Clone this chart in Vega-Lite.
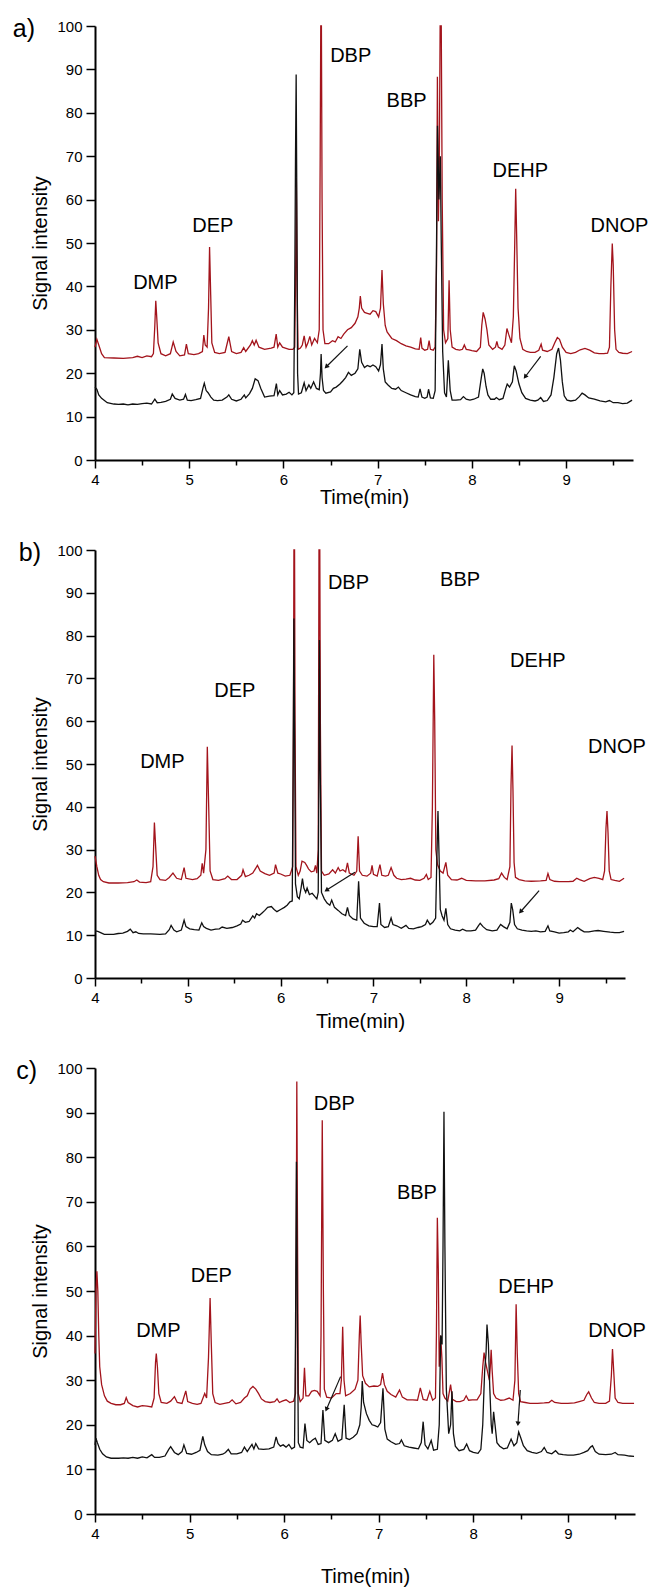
{
"$schema": "https://vega.github.io/schema/vega-lite/v6.json",
"background": "white",
"padding": {"left": 12, "top": 17, "right": 5, "bottom": 2},
"datasets": {
"aR": [{"t":4.0,"v":26},{"t":4.02,"v":27.8},{"t":4.04,"v":26.5},{"t":4.07,"v":24.5},{"t":4.1,"v":23.6},{"t":4.2,"v":23.5},{"t":4.3,"v":23.4},{"t":4.4,"v":23.6},{"t":4.45,"v":23.9},{"t":4.5,"v":23.6},{"t":4.55,"v":24.0},{"t":4.6,"v":23.8},{"t":4.62,"v":24.5},{"t":4.635,"v":31},{"t":4.645,"v":36.7},{"t":4.655,"v":33},{"t":4.67,"v":27},{"t":4.7,"v":24.5},{"t":4.75,"v":24},{"t":4.8,"v":24.5},{"t":4.83,"v":27.2},{"t":4.86,"v":25},{"t":4.9,"v":24},{"t":4.95,"v":24.2},{"t":4.97,"v":26.7},{"t":4.99,"v":24.5},{"t":5.05,"v":24.3},{"t":5.1,"v":24.5},{"t":5.14,"v":25},{"t":5.155,"v":28.8},{"t":5.17,"v":26.5},{"t":5.19,"v":26},{"t":5.205,"v":35},{"t":5.216,"v":49.1},{"t":5.228,"v":38},{"t":5.24,"v":27},{"t":5.27,"v":24.8},{"t":5.32,"v":24.5},{"t":5.38,"v":24.8},{"t":5.42,"v":28.4},{"t":5.45,"v":25},{"t":5.5,"v":24.5},{"t":5.55,"v":24.8},{"t":5.578,"v":25.9},{"t":5.6,"v":25},{"t":5.65,"v":26.5},{"t":5.67,"v":27.5},{"t":5.69,"v":26.5},{"t":5.71,"v":27.6},{"t":5.74,"v":26},{"t":5.8,"v":25.5},{"t":5.87,"v":25.8},{"t":5.9,"v":26},{"t":5.923,"v":29},{"t":5.94,"v":26},{"t":5.96,"v":27},{"t":5.99,"v":26},{"t":6.02,"v":25.8},{"t":6.06,"v":25.5},{"t":6.1,"v":25.5},{"t":6.12,"v":26},{"t":6.13,"v":45},{"t":6.137,"v":65},{"t":6.145,"v":40},{"t":6.155,"v":25.5},{"t":6.18,"v":25.8},{"t":6.2,"v":26.5},{"t":6.22,"v":28.6},{"t":6.24,"v":26},{"t":6.26,"v":27},{"t":6.28,"v":28.5},{"t":6.3,"v":26.5},{"t":6.33,"v":28},{"t":6.36,"v":27},{"t":6.38,"v":30},{"t":6.39,"v":70},{"t":6.396,"v":100},{"t":6.403,"v":100},{"t":6.41,"v":60},{"t":6.42,"v":30},{"t":6.44,"v":26.8},{"t":6.48,"v":26.8},{"t":6.52,"v":27.5},{"t":6.55,"v":27.2},{"t":6.58,"v":28.4},{"t":6.61,"v":28},{"t":6.64,"v":29},{"t":6.68,"v":30},{"t":6.72,"v":30.5},{"t":6.76,"v":31.5},{"t":6.79,"v":33},{"t":6.805,"v":35},{"t":6.816,"v":37.8},{"t":6.83,"v":35},{"t":6.86,"v":34},{"t":6.89,"v":33.8},{"t":6.92,"v":33.6},{"t":6.95,"v":34.4},{"t":6.98,"v":34.2},{"t":7.01,"v":33},{"t":7.03,"v":35},{"t":7.046,"v":43.8},{"t":7.06,"v":36},{"t":7.08,"v":31},{"t":7.1,"v":29.5},{"t":7.15,"v":28},{"t":7.2,"v":27.5},{"t":7.25,"v":26.8},{"t":7.3,"v":26.3},{"t":7.35,"v":26},{"t":7.4,"v":25.6},{"t":7.44,"v":25.5},{"t":7.457,"v":28.2},{"t":7.47,"v":25.8},{"t":7.5,"v":25.3},{"t":7.53,"v":25.5},{"t":7.546,"v":27.5},{"t":7.56,"v":25.5},{"t":7.59,"v":25.3},{"t":7.61,"v":26},{"t":7.625,"v":45},{"t":7.634,"v":88.3},{"t":7.645,"v":55},{"t":7.655,"v":70},{"t":7.663,"v":100},{"t":7.675,"v":100},{"t":7.685,"v":60},{"t":7.7,"v":30},{"t":7.72,"v":27},{"t":7.745,"v":28},{"t":7.758,"v":41.4},{"t":7.77,"v":30},{"t":7.79,"v":26},{"t":7.83,"v":25.5},{"t":7.87,"v":25.3},{"t":7.9,"v":25.5},{"t":7.92,"v":26.5},{"t":7.94,"v":25.5},{"t":7.97,"v":25.4},{"t":8.0,"v":25.2},{"t":8.05,"v":25},{"t":8.09,"v":26},{"t":8.105,"v":31},{"t":8.12,"v":34},{"t":8.14,"v":32.5},{"t":8.16,"v":30},{"t":8.18,"v":26.5},{"t":8.22,"v":25.5},{"t":8.25,"v":26},{"t":8.265,"v":27.3},{"t":8.28,"v":26},{"t":8.32,"v":25.5},{"t":8.35,"v":26.5},{"t":8.372,"v":30.3},{"t":8.39,"v":29},{"t":8.42,"v":27},{"t":8.44,"v":33},{"t":8.455,"v":50},{"t":8.465,"v":62.5},{"t":8.475,"v":52},{"t":8.49,"v":35},{"t":8.51,"v":28},{"t":8.54,"v":25.5},{"t":8.58,"v":25},{"t":8.62,"v":24.8},{"t":8.67,"v":24.8},{"t":8.71,"v":25.3},{"t":8.735,"v":26.7},{"t":8.75,"v":25.3},{"t":8.8,"v":25},{"t":8.85,"v":25.5},{"t":8.88,"v":27},{"t":8.907,"v":28.2},{"t":8.93,"v":27.8},{"t":8.96,"v":26},{"t":9.0,"v":24.8},{"t":9.05,"v":24.5},{"t":9.1,"v":24.8},{"t":9.15,"v":25.4},{"t":9.2,"v":25.7},{"t":9.25,"v":25.3},{"t":9.3,"v":24.7},{"t":9.35,"v":24.5},{"t":9.4,"v":24.5},{"t":9.44,"v":24.6},{"t":9.46,"v":26},{"t":9.475,"v":40},{"t":9.49,"v":49.9},{"t":9.5,"v":45},{"t":9.515,"v":30},{"t":9.53,"v":25.5},{"t":9.56,"v":24.8},{"t":9.6,"v":24.6},{"t":9.65,"v":24.5},{"t":9.7,"v":25}],
"aK": [{"t":4.0,"v":16.8},{"t":4.02,"v":16.3},{"t":4.04,"v":15},{"t":4.07,"v":14.2},{"t":4.1,"v":13.7},{"t":4.13,"v":13.2},{"t":4.2,"v":12.9},{"t":4.25,"v":12.8},{"t":4.3,"v":12.9},{"t":4.35,"v":12.7},{"t":4.4,"v":12.9},{"t":4.45,"v":12.8},{"t":4.5,"v":13},{"t":4.55,"v":13.1},{"t":4.6,"v":12.9},{"t":4.635,"v":14},{"t":4.66,"v":13.2},{"t":4.7,"v":13.3},{"t":4.75,"v":13.5},{"t":4.8,"v":14},{"t":4.82,"v":15.2},{"t":4.85,"v":14.2},{"t":4.9,"v":13.8},{"t":4.94,"v":14},{"t":4.96,"v":15.1},{"t":4.98,"v":13.8},{"t":5.02,"v":13.7},{"t":5.07,"v":13.9},{"t":5.12,"v":14.2},{"t":5.145,"v":16.5},{"t":5.16,"v":17.7},{"t":5.18,"v":16},{"t":5.2,"v":15.5},{"t":5.23,"v":14.5},{"t":5.26,"v":13.8},{"t":5.3,"v":13.7},{"t":5.35,"v":13.8},{"t":5.4,"v":14.5},{"t":5.42,"v":15},{"t":5.45,"v":14},{"t":5.5,"v":13.6},{"t":5.55,"v":14},{"t":5.585,"v":15},{"t":5.6,"v":14.3},{"t":5.64,"v":15.3},{"t":5.67,"v":16.5},{"t":5.7,"v":18.7},{"t":5.73,"v":18.3},{"t":5.76,"v":16.5},{"t":5.8,"v":14.5},{"t":5.85,"v":14.7},{"t":5.9,"v":14.8},{"t":5.925,"v":17.6},{"t":5.94,"v":15},{"t":5.96,"v":16},{"t":5.99,"v":15},{"t":6.03,"v":15.2},{"t":6.06,"v":15.6},{"t":6.09,"v":15},{"t":6.11,"v":15.5},{"t":6.12,"v":40},{"t":6.128,"v":70},{"t":6.135,"v":88.8},{"t":6.142,"v":60},{"t":6.15,"v":20},{"t":6.16,"v":15.2},{"t":6.19,"v":15.5},{"t":6.22,"v":17.8},{"t":6.24,"v":16},{"t":6.27,"v":17.3},{"t":6.29,"v":16.5},{"t":6.32,"v":18},{"t":6.35,"v":16.5},{"t":6.38,"v":16.2},{"t":6.393,"v":20},{"t":6.4,"v":24.4},{"t":6.41,"v":19},{"t":6.425,"v":16},{"t":6.45,"v":15.4},{"t":6.5,"v":15.7},{"t":6.53,"v":16.5},{"t":6.56,"v":16.8},{"t":6.6,"v":17.5},{"t":6.63,"v":18.2},{"t":6.66,"v":19},{"t":6.69,"v":20.2},{"t":6.72,"v":19.5},{"t":6.76,"v":20},{"t":6.79,"v":21},{"t":6.81,"v":25.5},{"t":6.83,"v":22.5},{"t":6.86,"v":21.3},{"t":6.89,"v":21.8},{"t":6.92,"v":21.5},{"t":6.95,"v":21.9},{"t":6.98,"v":21.5},{"t":7.01,"v":20.5},{"t":7.03,"v":22},{"t":7.046,"v":26.7},{"t":7.06,"v":21},{"t":7.08,"v":18},{"t":7.11,"v":17.3},{"t":7.15,"v":16.5},{"t":7.19,"v":16.3},{"t":7.22,"v":16.8},{"t":7.25,"v":16},{"t":7.3,"v":15.5},{"t":7.35,"v":15},{"t":7.4,"v":14.6},{"t":7.43,"v":14.5},{"t":7.45,"v":16.4},{"t":7.47,"v":14.5},{"t":7.5,"v":14.2},{"t":7.525,"v":14.5},{"t":7.54,"v":16.3},{"t":7.56,"v":14.3},{"t":7.59,"v":14.2},{"t":7.61,"v":16},{"t":7.625,"v":50},{"t":7.635,"v":77},{"t":7.65,"v":60},{"t":7.665,"v":70},{"t":7.675,"v":50},{"t":7.69,"v":25},{"t":7.71,"v":15.5},{"t":7.73,"v":14.5},{"t":7.75,"v":23},{"t":7.77,"v":16},{"t":7.79,"v":13.8},{"t":7.83,"v":13.8},{"t":7.88,"v":13.9},{"t":7.91,"v":14.6},{"t":7.94,"v":14},{"t":7.98,"v":13.8},{"t":8.02,"v":14},{"t":8.07,"v":14.5},{"t":8.1,"v":19},{"t":8.115,"v":21},{"t":8.13,"v":20},{"t":8.15,"v":17},{"t":8.17,"v":15},{"t":8.2,"v":14},{"t":8.24,"v":14},{"t":8.26,"v":14.4},{"t":8.29,"v":13.9},{"t":8.33,"v":14.2},{"t":8.36,"v":16.5},{"t":8.375,"v":17.5},{"t":8.4,"v":16.8},{"t":8.43,"v":18},{"t":8.45,"v":21.7},{"t":8.47,"v":20.5},{"t":8.5,"v":17.5},{"t":8.53,"v":15.5},{"t":8.57,"v":14.2},{"t":8.62,"v":13.8},{"t":8.67,"v":13.6},{"t":8.7,"v":13.8},{"t":8.73,"v":14.4},{"t":8.76,"v":13.5},{"t":8.8,"v":13.7},{"t":8.84,"v":15},{"t":8.87,"v":19},{"t":8.9,"v":24.5},{"t":8.92,"v":25.8},{"t":8.94,"v":23},{"t":8.96,"v":18},{"t":8.98,"v":14.8},{"t":9.01,"v":13.8},{"t":9.05,"v":13.6},{"t":9.1,"v":13.8},{"t":9.14,"v":14.6},{"t":9.17,"v":15.4},{"t":9.2,"v":15},{"t":9.24,"v":14.3},{"t":9.3,"v":14},{"t":9.36,"v":13.6},{"t":9.42,"v":13.4},{"t":9.46,"v":13.7},{"t":9.5,"v":13.2},{"t":9.55,"v":13.2},{"t":9.6,"v":13},{"t":9.65,"v":13.1},{"t":9.7,"v":13.8}],
"bR": [{"t":4.0,"v":28.5},{"t":4.02,"v":26},{"t":4.04,"v":24},{"t":4.06,"v":23},{"t":4.09,"v":22.5},{"t":4.15,"v":22.2},{"t":4.25,"v":22.2},{"t":4.35,"v":22.3},{"t":4.42,"v":22.5},{"t":4.45,"v":22.9},{"t":4.48,"v":22.4},{"t":4.55,"v":22.3},{"t":4.6,"v":22.5},{"t":4.625,"v":26},{"t":4.64,"v":36.3},{"t":4.655,"v":30},{"t":4.67,"v":24},{"t":4.7,"v":23},{"t":4.76,"v":22.8},{"t":4.8,"v":23.5},{"t":4.84,"v":24.5},{"t":4.88,"v":23.3},{"t":4.93,"v":23},{"t":4.96,"v":25.8},{"t":4.98,"v":23.3},{"t":5.05,"v":23},{"t":5.1,"v":23.2},{"t":5.14,"v":24},{"t":5.155,"v":26.8},{"t":5.17,"v":24.5},{"t":5.195,"v":30},{"t":5.21,"v":54},{"t":5.225,"v":40},{"t":5.24,"v":25},{"t":5.27,"v":23},{"t":5.33,"v":22.8},{"t":5.4,"v":23.2},{"t":5.43,"v":23.8},{"t":5.47,"v":23},{"t":5.53,"v":23},{"t":5.58,"v":24},{"t":5.595,"v":25.3},{"t":5.62,"v":23.7},{"t":5.66,"v":24},{"t":5.7,"v":24.5},{"t":5.75,"v":26.3},{"t":5.78,"v":25},{"t":5.83,"v":24.4},{"t":5.88,"v":24},{"t":5.93,"v":24.5},{"t":5.945,"v":26.5},{"t":5.97,"v":24.5},{"t":6.0,"v":24.3},{"t":6.05,"v":23.8},{"t":6.1,"v":24},{"t":6.13,"v":26},{"t":6.138,"v":60},{"t":6.143,"v":100},{"t":6.15,"v":100},{"t":6.155,"v":60},{"t":6.165,"v":26},{"t":6.19,"v":24},{"t":6.21,"v":25},{"t":6.23,"v":27.3},{"t":6.26,"v":27},{"t":6.28,"v":26.3},{"t":6.3,"v":25.5},{"t":6.33,"v":24.8},{"t":6.36,"v":25},{"t":6.375,"v":26.3},{"t":6.39,"v":24.5},{"t":6.405,"v":30},{"t":6.413,"v":100},{"t":6.422,"v":100},{"t":6.428,"v":60},{"t":6.44,"v":25},{"t":6.47,"v":24},{"t":6.52,"v":24.3},{"t":6.56,"v":25.3},{"t":6.59,"v":24.5},{"t":6.62,"v":25.8},{"t":6.64,"v":25},{"t":6.67,"v":25.3},{"t":6.7,"v":24.8},{"t":6.72,"v":26.9},{"t":6.74,"v":24.5},{"t":6.79,"v":24},{"t":6.82,"v":25},{"t":6.835,"v":33.1},{"t":6.85,"v":25},{"t":6.88,"v":24},{"t":6.93,"v":23.8},{"t":6.97,"v":24.5},{"t":6.985,"v":26.3},{"t":7.0,"v":24.2},{"t":7.04,"v":23.8},{"t":7.07,"v":26.5},{"t":7.09,"v":24},{"t":7.13,"v":23.8},{"t":7.16,"v":24},{"t":7.19,"v":25.8},{"t":7.22,"v":24},{"t":7.25,"v":23.3},{"t":7.3,"v":23},{"t":7.35,"v":23.1},{"t":7.4,"v":23.3},{"t":7.45,"v":22.9},{"t":7.5,"v":22.8},{"t":7.545,"v":23.3},{"t":7.57,"v":24.2},{"t":7.59,"v":23},{"t":7.62,"v":23.5},{"t":7.635,"v":40},{"t":7.65,"v":75.5},{"t":7.66,"v":60},{"t":7.672,"v":30},{"t":7.69,"v":26.5},{"t":7.72,"v":25},{"t":7.75,"v":24.5},{"t":7.78,"v":27},{"t":7.8,"v":24},{"t":7.84,"v":23},{"t":7.9,"v":22.9},{"t":7.95,"v":23.3},{"t":8.0,"v":22.8},{"t":8.1,"v":22.7},{"t":8.2,"v":22.7},{"t":8.3,"v":22.9},{"t":8.35,"v":23.2},{"t":8.38,"v":24.5},{"t":8.41,"v":23.5},{"t":8.44,"v":23},{"t":8.47,"v":26},{"t":8.482,"v":45},{"t":8.493,"v":54.3},{"t":8.503,"v":44},{"t":8.515,"v":27},{"t":8.53,"v":23.5},{"t":8.57,"v":23},{"t":8.63,"v":22.7},{"t":8.7,"v":22.6},{"t":8.8,"v":22.7},{"t":8.86,"v":22.8},{"t":8.88,"v":24.4},{"t":8.9,"v":23},{"t":8.95,"v":22.6},{"t":9.0,"v":22.5},{"t":9.05,"v":22.5},{"t":9.1,"v":22.5},{"t":9.15,"v":22.6},{"t":9.19,"v":23.3},{"t":9.22,"v":23},{"t":9.27,"v":22.6},{"t":9.33,"v":23.2},{"t":9.38,"v":23.5},{"t":9.43,"v":23.3},{"t":9.47,"v":23},{"t":9.49,"v":25},{"t":9.505,"v":35},{"t":9.516,"v":39},{"t":9.527,"v":34},{"t":9.54,"v":25},{"t":9.56,"v":23},{"t":9.6,"v":22.8},{"t":9.65,"v":22.6},{"t":9.7,"v":23.3}],
"bK": [{"t":4.0,"v":11},{"t":4.03,"v":10.9},{"t":4.06,"v":10.6},{"t":4.1,"v":10.2},{"t":4.15,"v":10.2},{"t":4.2,"v":10.2},{"t":4.25,"v":10.4},{"t":4.3,"v":10.5},{"t":4.35,"v":10.9},{"t":4.38,"v":11.4},{"t":4.41,"v":10.6},{"t":4.44,"v":10.8},{"t":4.47,"v":10.4},{"t":4.52,"v":10.3},{"t":4.6,"v":10.3},{"t":4.7,"v":10.2},{"t":4.76,"v":10.3},{"t":4.8,"v":11.3},{"t":4.82,"v":12.3},{"t":4.85,"v":11.2},{"t":4.88,"v":10.8},{"t":4.93,"v":11.2},{"t":4.96,"v":13.5},{"t":4.98,"v":12},{"t":5.02,"v":11.5},{"t":5.07,"v":11.3},{"t":5.12,"v":11.2},{"t":5.15,"v":12.9},{"t":5.17,"v":12},{"t":5.2,"v":11.6},{"t":5.25,"v":11.2},{"t":5.3,"v":11.4},{"t":5.34,"v":11.5},{"t":5.37,"v":11.9},{"t":5.42,"v":11.6},{"t":5.48,"v":11.8},{"t":5.53,"v":12.2},{"t":5.57,"v":12.6},{"t":5.59,"v":13.5},{"t":5.62,"v":13},{"t":5.66,"v":13.2},{"t":5.7,"v":14.5},{"t":5.72,"v":14},{"t":5.74,"v":15},{"t":5.77,"v":14.6},{"t":5.8,"v":15.2},{"t":5.83,"v":15.8},{"t":5.86,"v":16.5},{"t":5.9,"v":16.7},{"t":5.93,"v":16},{"t":5.96,"v":15.5},{"t":6.0,"v":16},{"t":6.04,"v":16.5},{"t":6.07,"v":17},{"t":6.1,"v":17.8},{"t":6.125,"v":18},{"t":6.135,"v":50},{"t":6.143,"v":84},{"t":6.15,"v":60},{"t":6.16,"v":22},{"t":6.18,"v":19},{"t":6.2,"v":18.5},{"t":6.22,"v":21},{"t":6.235,"v":23.2},{"t":6.25,"v":21},{"t":6.27,"v":20},{"t":6.285,"v":21},{"t":6.31,"v":19.5},{"t":6.34,"v":19.8},{"t":6.37,"v":19},{"t":6.39,"v":18.5},{"t":6.405,"v":20},{"t":6.413,"v":50},{"t":6.418,"v":79},{"t":6.426,"v":50},{"t":6.44,"v":20},{"t":6.47,"v":18.5},{"t":6.5,"v":17.5},{"t":6.53,"v":17},{"t":6.55,"v":18.2},{"t":6.58,"v":16.5},{"t":6.62,"v":15.8},{"t":6.66,"v":15},{"t":6.7,"v":14.6},{"t":6.72,"v":16.5},{"t":6.74,"v":14.6},{"t":6.78,"v":13.8},{"t":6.82,"v":13.5},{"t":6.84,"v":22.6},{"t":6.86,"v":14},{"t":6.9,"v":12.8},{"t":6.95,"v":12.2},{"t":7.0,"v":12},{"t":7.04,"v":12},{"t":7.065,"v":17.5},{"t":7.08,"v":12.5},{"t":7.12,"v":11.8},{"t":7.16,"v":12},{"t":7.19,"v":14},{"t":7.21,"v":12.5},{"t":7.25,"v":12.2},{"t":7.3,"v":11.6},{"t":7.35,"v":12.3},{"t":7.38,"v":11.6},{"t":7.43,"v":11.5},{"t":7.48,"v":11.8},{"t":7.52,"v":12},{"t":7.56,"v":12.5},{"t":7.58,"v":13.5},{"t":7.61,"v":12.5},{"t":7.64,"v":13},{"t":7.67,"v":14},{"t":7.68,"v":25},{"t":7.695,"v":39},{"t":7.705,"v":30},{"t":7.72,"v":16},{"t":7.74,"v":14.5},{"t":7.76,"v":13.5},{"t":7.78,"v":16.3},{"t":7.8,"v":12.5},{"t":7.83,"v":11.5},{"t":7.88,"v":11.2},{"t":7.93,"v":11},{"t":7.96,"v":11.4},{"t":8.0,"v":11},{"t":8.05,"v":11},{"t":8.1,"v":11.2},{"t":8.13,"v":12.2},{"t":8.15,"v":12.8},{"t":8.18,"v":12},{"t":8.22,"v":11.3},{"t":8.28,"v":11},{"t":8.33,"v":11.2},{"t":8.37,"v":12.5},{"t":8.4,"v":12},{"t":8.44,"v":11.5},{"t":8.47,"v":13},{"t":8.485,"v":17.5},{"t":8.5,"v":16},{"t":8.52,"v":12.5},{"t":8.55,"v":11.5},{"t":8.6,"v":11.2},{"t":8.65,"v":11},{"t":8.7,"v":10.9},{"t":8.75,"v":11},{"t":8.8,"v":10.8},{"t":8.85,"v":10.9},{"t":8.88,"v":12.2},{"t":8.9,"v":11},{"t":8.95,"v":10.8},{"t":9.0,"v":10.5},{"t":9.05,"v":10.6},{"t":9.1,"v":10.8},{"t":9.12,"v":11.2},{"t":9.15,"v":10.8},{"t":9.2,"v":11.8},{"t":9.23,"v":11.3},{"t":9.27,"v":10.8},{"t":9.32,"v":10.8},{"t":9.38,"v":11},{"t":9.42,"v":11.1},{"t":9.48,"v":10.9},{"t":9.55,"v":10.7},{"t":9.6,"v":10.6},{"t":9.65,"v":10.6},{"t":9.7,"v":10.9}],
"cR": [{"t":4.0,"v":36},{"t":4.01,"v":50},{"t":4.02,"v":54.4},{"t":4.03,"v":50},{"t":4.04,"v":40},{"t":4.05,"v":33},{"t":4.07,"v":29},{"t":4.1,"v":26.5},{"t":4.13,"v":25.3},{"t":4.17,"v":24.8},{"t":4.22,"v":24.5},{"t":4.27,"v":24.5},{"t":4.31,"v":24.8},{"t":4.33,"v":26.1},{"t":4.35,"v":25},{"t":4.4,"v":24.3},{"t":4.45,"v":24},{"t":4.5,"v":24.3},{"t":4.55,"v":24.2},{"t":4.6,"v":24},{"t":4.625,"v":26},{"t":4.64,"v":34},{"t":4.648,"v":36},{"t":4.66,"v":33},{"t":4.675,"v":27},{"t":4.7,"v":25},{"t":4.76,"v":24.8},{"t":4.8,"v":25.3},{"t":4.84,"v":26.3},{"t":4.87,"v":25},{"t":4.92,"v":24.8},{"t":4.96,"v":27.6},{"t":4.98,"v":25.2},{"t":5.03,"v":24.8},{"t":5.08,"v":24.6},{"t":5.12,"v":24.8},{"t":5.16,"v":27},{"t":5.18,"v":26},{"t":5.2,"v":35},{"t":5.217,"v":48.4},{"t":5.23,"v":38},{"t":5.245,"v":27},{"t":5.27,"v":25},{"t":5.32,"v":24.6},{"t":5.37,"v":24.8},{"t":5.42,"v":25},{"t":5.45,"v":25.6},{"t":5.49,"v":24.7},{"t":5.54,"v":25},{"t":5.58,"v":26},{"t":5.61,"v":26.5},{"t":5.64,"v":28},{"t":5.67,"v":28.6},{"t":5.7,"v":28},{"t":5.73,"v":27},{"t":5.76,"v":25.8},{"t":5.8,"v":25.2},{"t":5.85,"v":25},{"t":5.9,"v":25.2},{"t":5.925,"v":25.8},{"t":5.95,"v":25},{"t":5.98,"v":25.3},{"t":6.02,"v":25.6},{"t":6.06,"v":25},{"t":6.1,"v":25.3},{"t":6.12,"v":27},{"t":6.128,"v":60},{"t":6.134,"v":97},{"t":6.142,"v":60},{"t":6.15,"v":27},{"t":6.17,"v":25.2},{"t":6.2,"v":26},{"t":6.215,"v":32.8},{"t":6.23,"v":26.5},{"t":6.26,"v":26.5},{"t":6.29,"v":27.5},{"t":6.32,"v":27.7},{"t":6.35,"v":27.5},{"t":6.38,"v":26.5},{"t":6.39,"v":40},{"t":6.403,"v":88.3},{"t":6.415,"v":50},{"t":6.425,"v":28},{"t":6.45,"v":26.2},{"t":6.5,"v":26},{"t":6.55,"v":27},{"t":6.59,"v":27},{"t":6.605,"v":30},{"t":6.619,"v":42},{"t":6.633,"v":30},{"t":6.65,"v":26.5},{"t":6.7,"v":27},{"t":6.75,"v":28},{"t":6.78,"v":30},{"t":6.795,"v":40},{"t":6.804,"v":44.5},{"t":6.815,"v":38},{"t":6.83,"v":31},{"t":6.86,"v":29.3},{"t":6.9,"v":28.5},{"t":6.95,"v":28.7},{"t":6.99,"v":28.6},{"t":7.02,"v":29},{"t":7.04,"v":31.6},{"t":7.06,"v":29},{"t":7.09,"v":27.5},{"t":7.13,"v":26.8},{"t":7.18,"v":26.2},{"t":7.22,"v":27.8},{"t":7.25,"v":26.2},{"t":7.3,"v":25.6},{"t":7.36,"v":25.6},{"t":7.41,"v":25.5},{"t":7.44,"v":28.3},{"t":7.47,"v":25.7},{"t":7.51,"v":25.5},{"t":7.54,"v":27.5},{"t":7.57,"v":25.5},{"t":7.6,"v":26},{"t":7.61,"v":40},{"t":7.62,"v":66.4},{"t":7.63,"v":55},{"t":7.64,"v":33},{"t":7.655,"v":40},{"t":7.668,"v":35},{"t":7.68,"v":27},{"t":7.7,"v":26},{"t":7.73,"v":25.3},{"t":7.76,"v":29},{"t":7.78,"v":25.7},{"t":7.82,"v":25.2},{"t":7.86,"v":25.2},{"t":7.9,"v":25.5},{"t":7.925,"v":26.5},{"t":7.95,"v":25.5},{"t":7.99,"v":25.6},{"t":8.04,"v":25.6},{"t":8.08,"v":27},{"t":8.1,"v":33},{"t":8.114,"v":36.2},{"t":8.13,"v":34},{"t":8.15,"v":32},{"t":8.17,"v":30},{"t":8.18,"v":33},{"t":8.189,"v":36.8},{"t":8.2,"v":32},{"t":8.215,"v":27},{"t":8.24,"v":26},{"t":8.29,"v":25.5},{"t":8.33,"v":25.6},{"t":8.38,"v":26},{"t":8.42,"v":25.5},{"t":8.44,"v":30},{"t":8.453,"v":47},{"t":8.465,"v":36},{"t":8.48,"v":27},{"t":8.5,"v":25.2},{"t":8.55,"v":25},{"t":8.6,"v":24.8},{"t":8.68,"v":24.8},{"t":8.75,"v":24.9},{"t":8.8,"v":25},{"t":8.83,"v":25.5},{"t":8.86,"v":25},{"t":8.93,"v":24.8},{"t":9.0,"v":24.8},{"t":9.07,"v":24.9},{"t":9.12,"v":25.2},{"t":9.17,"v":25.5},{"t":9.2,"v":26.8},{"t":9.22,"v":27.4},{"t":9.25,"v":26},{"t":9.28,"v":25},{"t":9.33,"v":24.8},{"t":9.4,"v":24.8},{"t":9.44,"v":25.3},{"t":9.46,"v":31},{"t":9.472,"v":37},{"t":9.485,"v":32},{"t":9.5,"v":26},{"t":9.53,"v":25},{"t":9.58,"v":24.8},{"t":9.63,"v":24.8},{"t":9.7,"v":24.8}],
"cK": [{"t":4.0,"v":15.5},{"t":4.01,"v":17},{"t":4.025,"v":16},{"t":4.05,"v":14.5},{"t":4.08,"v":13.5},{"t":4.12,"v":12.8},{"t":4.17,"v":12.5},{"t":4.25,"v":12.5},{"t":4.3,"v":12.6},{"t":4.35,"v":12.5},{"t":4.4,"v":12.7},{"t":4.45,"v":12.5},{"t":4.5,"v":12.8},{"t":4.55,"v":12.6},{"t":4.6,"v":13.3},{"t":4.63,"v":12.7},{"t":4.68,"v":12.7},{"t":4.74,"v":13},{"t":4.78,"v":14.5},{"t":4.8,"v":15.1},{"t":4.84,"v":13.8},{"t":4.88,"v":13.3},{"t":4.92,"v":14},{"t":4.94,"v":15.5},{"t":4.97,"v":13.6},{"t":5.02,"v":13.4},{"t":5.07,"v":13.8},{"t":5.11,"v":14.3},{"t":5.14,"v":17.4},{"t":5.16,"v":15.5},{"t":5.19,"v":14},{"t":5.23,"v":13.3},{"t":5.3,"v":13.2},{"t":5.35,"v":13.4},{"t":5.38,"v":13.8},{"t":5.41,"v":14.5},{"t":5.44,"v":13.5},{"t":5.5,"v":13.5},{"t":5.55,"v":13.8},{"t":5.58,"v":15},{"t":5.61,"v":14},{"t":5.64,"v":15},{"t":5.66,"v":15.6},{"t":5.68,"v":14.6},{"t":5.7,"v":15.8},{"t":5.73,"v":14.6},{"t":5.78,"v":14.5},{"t":5.84,"v":14.6},{"t":5.89,"v":15},{"t":5.915,"v":17.3},{"t":5.935,"v":15.8},{"t":5.96,"v":15.2},{"t":5.99,"v":15.5},{"t":6.02,"v":15},{"t":6.05,"v":15.6},{"t":6.08,"v":14.6},{"t":6.11,"v":15},{"t":6.12,"v":40},{"t":6.13,"v":79},{"t":6.14,"v":45},{"t":6.15,"v":16},{"t":6.17,"v":15},{"t":6.2,"v":14.8},{"t":6.22,"v":20.3},{"t":6.24,"v":16.5},{"t":6.27,"v":16},{"t":6.3,"v":16.6},{"t":6.33,"v":17},{"t":6.36,"v":15.6},{"t":6.39,"v":15.8},{"t":6.41,"v":23.3},{"t":6.43,"v":16.5},{"t":6.47,"v":16},{"t":6.51,"v":16.5},{"t":6.54,"v":18},{"t":6.57,"v":16.3},{"t":6.61,"v":16.8},{"t":6.635,"v":24.5},{"t":6.655,"v":17},{"t":6.69,"v":16.7},{"t":6.73,"v":17.2},{"t":6.77,"v":18},{"t":6.8,"v":20},{"t":6.815,"v":24},{"t":6.826,"v":29.8},{"t":6.84,"v":25},{"t":6.87,"v":22.5},{"t":6.9,"v":21},{"t":6.93,"v":20},{"t":6.96,"v":19.8},{"t":6.99,"v":19.5},{"t":7.02,"v":20.5},{"t":7.045,"v":28.2},{"t":7.065,"v":19},{"t":7.09,"v":16.8},{"t":7.13,"v":16.2},{"t":7.18,"v":15.6},{"t":7.22,"v":15.8},{"t":7.24,"v":16.6},{"t":7.27,"v":15.3},{"t":7.32,"v":15},{"t":7.37,"v":14.8},{"t":7.42,"v":14.6},{"t":7.45,"v":16},{"t":7.47,"v":20.7},{"t":7.49,"v":15.5},{"t":7.52,"v":14.6},{"t":7.555,"v":16.5},{"t":7.58,"v":14.3},{"t":7.62,"v":14.5},{"t":7.64,"v":20},{"t":7.655,"v":40},{"t":7.67,"v":38},{"t":7.68,"v":60},{"t":7.69,"v":90.2},{"t":7.7,"v":60},{"t":7.715,"v":28},{"t":7.74,"v":18},{"t":7.76,"v":20},{"t":7.775,"v":27.5},{"t":7.79,"v":18},{"t":7.81,"v":15.2},{"t":7.85,"v":14.2},{"t":7.9,"v":14.5},{"t":7.93,"v":15.7},{"t":7.96,"v":14.2},{"t":8.0,"v":13.8},{"t":8.05,"v":13.6},{"t":8.08,"v":14.5},{"t":8.1,"v":20},{"t":8.12,"v":32},{"t":8.135,"v":36},{"t":8.145,"v":42.5},{"t":8.16,"v":38},{"t":8.175,"v":28},{"t":8.19,"v":20},{"t":8.2,"v":18},{"t":8.215,"v":22.9},{"t":8.23,"v":20},{"t":8.25,"v":16},{"t":8.28,"v":15.2},{"t":8.32,"v":14.6},{"t":8.36,"v":14.8},{"t":8.4,"v":16.8},{"t":8.43,"v":15.3},{"t":8.46,"v":16},{"t":8.48,"v":18.4},{"t":8.5,"v":17.2},{"t":8.53,"v":15.3},{"t":8.57,"v":14.2},{"t":8.62,"v":13.8},{"t":8.67,"v":13.6},{"t":8.72,"v":14},{"t":8.75,"v":14.9},{"t":8.78,"v":13.8},{"t":8.83,"v":13.5},{"t":8.87,"v":14.2},{"t":8.9,"v":13.5},{"t":8.95,"v":13.3},{"t":9.0,"v":13.2},{"t":9.06,"v":13.2},{"t":9.12,"v":13.4},{"t":9.17,"v":13.8},{"t":9.21,"v":14.2},{"t":9.24,"v":15},{"t":9.26,"v":15.3},{"t":9.29,"v":14},{"t":9.33,"v":13.4},{"t":9.4,"v":13.3},{"t":9.46,"v":13.4},{"t":9.5,"v":13.8},{"t":9.53,"v":13.3},{"t":9.6,"v":13.2},{"t":9.65,"v":13},{"t":9.7,"v":12.9}],
"aArr": [{"t1":6.68,"v1":26.3,"t2":6.46,"v2":21.6},{"t1":8.73,"v1":23.9,"t2":8.57,"v2":19.3}],
"bArr": [{"t1":6.8,"v1":24.7,"t2":6.5,"v2":20.6},{"t1":8.785,"v1":20.4,"t2":8.59,"v2":15.6}],
"cArr": [{"t1":6.597,"v1":30.8,"t2":6.45,"v2":23.6},{"t1":8.497,"v1":27.8,"t2":8.473,"v2":20.4}],
"aLab": [{"t":4.641,"v":40.8,"label":"DMP"},{"t":5.251,"v":53.9,"label":"DEP"},{"t":6.714,"v":93.1,"label":"DBP"},{"t":7.307,"v":82.7,"label":"BBP"},{"t":8.514,"v":66.5,"label":"DEHP"},{"t":9.566,"v":53.9,"label":"DNOP"}],
"bLab": [{"t":4.726,"v":50.4,"label":"DMP"},{"t":5.507,"v":67,"label":"DEP"},{"t":6.731,"v":92.4,"label":"DBP"},{"t":7.933,"v":92.9,"label":"BBP"},{"t":8.771,"v":74,"label":"DEHP"},{"t":9.623,"v":54,"label":"DNOP"}],
"cLab": [{"t":4.67,"v":41.1,"label":"DMP"},{"t":5.23,"v":53.4,"label":"DEP"},{"t":6.531,"v":92,"label":"DBP"},{"t":7.404,"v":71.9,"label":"BBP"},{"t":8.559,"v":50.9,"label":"DEHP"},{"t":9.52,"v":41.1,"label":"DNOP"}]
},
"vconcat": [
{
"width": 538, "height": 434,
"title": {"text": "a)", "anchor": "start", "frame": "group", "align": "right", "baseline": "middle", "dx": -60, "dy": 35, "offset": 0},
"layer": [
{"data": {"name": "aR"}, "mark": {"type": "line", "color": "#a3141c", "strokeWidth": 1.3},
 "encoding": {"x": {"field": "t", "type": "quantitative", "scale": {"domain": [4, 9.71], "nice": false}, "title": "Time(min)", "axis": {"titlePadding": 0}},
  "y": {"field": "v", "type": "quantitative", "scale": {"domain": [0, 100], "nice": false}, "title": "Signal intensity"}}},
{"data": {"name": "aK"}, "mark": {"type": "line", "color": "#111111", "strokeWidth": 1.3},
 "encoding": {"x": {"field": "t", "type": "quantitative"}, "y": {"field": "v", "type": "quantitative"}}},
{"data": {"name": "aArr"}, "mark": {"type": "rule", "color": "#111111", "strokeWidth": 1.2},
 "encoding": {"x": {"field": "t1", "type": "quantitative"}, "y": {"field": "v1", "type": "quantitative"}, "x2": {"field": "t2"}, "y2": {"field": "v2"}}},
{"data": {"name": "aArr"}, "mark": {"type": "point", "shape": "triangle", "filled": true, "color": "#111111", "size": 28, "opacity": 1},
 "encoding": {"x": {"field": "t2", "type": "quantitative"}, "y": {"field": "v2", "type": "quantitative"}, "angle": {"condition": {"test": "datum.t2 > 8", "value": 217}, "value": 225}}},
{"data": {"name": "aLab"}, "mark": {"type": "text", "fontSize": 20, "color": "#000000", "align": "center", "baseline": "middle"},
 "encoding": {"x": {"field": "t", "type": "quantitative"}, "y": {"field": "v", "type": "quantitative"}, "text": {"field": "label"}}}
]
},
{
"width": 530, "height": 428,
"title": {"text": "b)", "anchor": "start", "frame": "group", "align": "right", "baseline": "middle", "dx": -54, "dy": 35, "offset": 0},
"layer": [
{"data": {"name": "bR"}, "mark": {"type": "line", "color": "#a3141c", "strokeWidth": 1.3},
 "encoding": {"x": {"field": "t", "type": "quantitative", "scale": {"domain": [4, 9.71], "nice": false}, "title": "Time(min)", "axis": {"titlePadding": 6}},
  "y": {"field": "v", "type": "quantitative", "scale": {"domain": [0, 100], "nice": false}, "title": "Signal intensity"}}},
{"data": {"name": "bK"}, "mark": {"type": "line", "color": "#111111", "strokeWidth": 1.3},
 "encoding": {"x": {"field": "t", "type": "quantitative"}, "y": {"field": "v", "type": "quantitative"}}},
{"data": {"name": "bArr"}, "mark": {"type": "rule", "color": "#111111", "strokeWidth": 1.2},
 "encoding": {"x": {"field": "t1", "type": "quantitative"}, "y": {"field": "v1", "type": "quantitative"}, "x2": {"field": "t2"}, "y2": {"field": "v2"}}},
{"data": {"name": "bArr"}, "mark": {"type": "point", "shape": "triangle", "filled": true, "color": "#111111", "size": 28, "opacity": 1},
 "encoding": {"x": {"field": "t2", "type": "quantitative"}, "y": {"field": "v2", "type": "quantitative"}, "angle": {"condition": {"test": "datum.t2 > 8", "value": 221}, "value": 237}}},
{"data": {"name": "bLab"}, "mark": {"type": "text", "fontSize": 20, "color": "#000000", "align": "center", "baseline": "middle"},
 "encoding": {"x": {"field": "t", "type": "quantitative"}, "y": {"field": "v", "type": "quantitative"}, "text": {"field": "label"}}}
]
},
{
"width": 540, "height": 446,
"title": {"text": "c)", "anchor": "start", "frame": "group", "align": "right", "baseline": "middle", "dx": -58, "dy": 35, "offset": 0},
"layer": [
{"data": {"name": "cR"}, "mark": {"type": "line", "color": "#a3141c", "strokeWidth": 1.3},
 "encoding": {"x": {"field": "t", "type": "quantitative", "scale": {"domain": [4, 9.71], "nice": false}, "title": "Time(min)", "axis": {"titlePadding": 25}},
  "y": {"field": "v", "type": "quantitative", "scale": {"domain": [0, 100], "nice": false}, "title": "Signal intensity"}}},
{"data": {"name": "cK"}, "mark": {"type": "line", "color": "#111111", "strokeWidth": 1.3},
 "encoding": {"x": {"field": "t", "type": "quantitative"}, "y": {"field": "v", "type": "quantitative"}}},
{"data": {"name": "cArr"}, "mark": {"type": "rule", "color": "#111111", "strokeWidth": 1.2},
 "encoding": {"x": {"field": "t1", "type": "quantitative"}, "y": {"field": "v1", "type": "quantitative"}, "x2": {"field": "t2"}, "y2": {"field": "v2"}}},
{"data": {"name": "cArr"}, "mark": {"type": "point", "shape": "triangle", "filled": true, "color": "#111111", "size": 28, "opacity": 1},
 "encoding": {"x": {"field": "t2", "type": "quantitative"}, "y": {"field": "v2", "type": "quantitative"}, "angle": {"condition": {"test": "datum.t2 > 8", "value": 184}, "value": 203}}},
{"data": {"name": "cLab"}, "mark": {"type": "text", "fontSize": 20, "color": "#000000", "align": "center", "baseline": "middle"},
 "encoding": {"x": {"field": "t", "type": "quantitative"}, "y": {"field": "v", "type": "quantitative"}, "text": {"field": "label"}}}
]
}
],
"spacing": 90,
"bounds": "flush",
"config": {
 "view": {"stroke": null},
 "font": "Liberation Sans",
 "title": {"fontSize": 25, "fontWeight": "normal", "color": "#000000", "font": "Liberation Sans"},
 "text": {"font": "Liberation Sans"},
 "axis": {"grid": false, "domainColor": "#000000", "domainWidth": 2, "tickColor": "#000000", "tickWidth": 1.5, "labelColor": "#000000", "labelFontSize": 15, "labelFont": "Liberation Sans", "titleFontSize": 20, "titleFont": "Liberation Sans", "titleFontWeight": "normal", "titleColor": "#000000", "labelOverlap": false, "labelFlush": false},
 "axisX": {"values": [4, 4.5, 5, 5.5, 6, 6.5, 7, 7.5, 8, 8.5, 9, 9.5], "labelExpr": "datum.value % 1 === 0 ? format(datum.value, 'd') : ''", "tickSize": {"condition": {"test": "datum.value % 1 === 0", "value": 8}, "value": 5}, "labelPadding": 4},
 "axisY": {"values": [0, 5, 10, 15, 20, 25, 30, 35, 40, 45, 50, 55, 60, 65, 70, 75, 80, 85, 90, 95, 100], "labelExpr": "datum.value % 10 === 0 ? datum.label : ''", "tickSize": {"condition": {"test": "datum.value % 10 === 0", "value": 9}, "value": 5}, "labelPadding": 4, "titlePadding": 6}
}
}
